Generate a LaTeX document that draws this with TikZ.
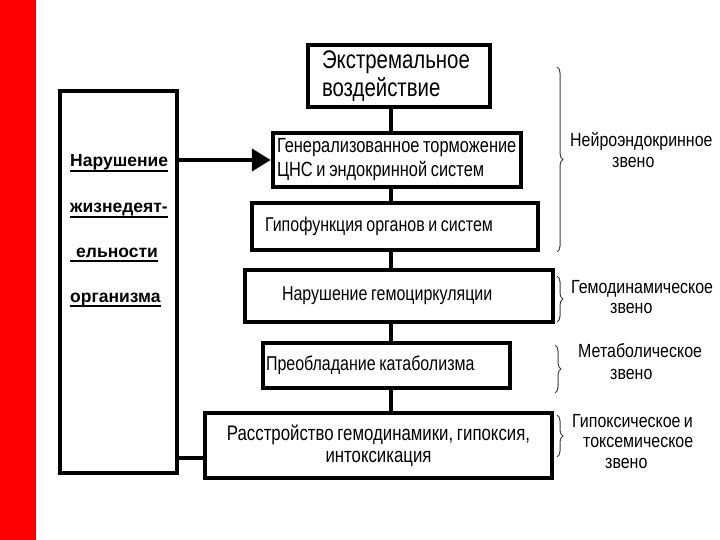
\documentclass[tikz,border=0pt]{standalone}
\usepackage{fontspec}
\setmainfont{Liberation Sans}
\newfontfamily\cf[FakeStretch=0.8,WordSpace=0.8]{Liberation Sans}
\newfontfamily\lf[FakeStretch=0.84,WordSpace=0.75]{Liberation Sans}
\usetikzlibrary{arrows.meta,decorations.pathreplacing}
\newcommand\myul[1]{\setbox0=\hbox{#1}\rlap{\rule[-5pt]{\wd0}{1.8pt}}\box0}
\newcommand\natsp{\spaceskip=0pt\xspaceskip=0pt\relax}
\begin{document}
\begin{tikzpicture}[x=1pt,y=-1pt,
  box/.style={draw=black,line width=4.5pt,rectangle,inner ysep=0pt,align=left,
    font=\cf\fontsize{20}{24}\selectfont},
  conn/.style={line width=4.5pt},
  brc/.style={draw=black!75,line width=1pt,decorate,decoration={brace,amplitude=6pt}},
  lab/.style={anchor=base west,inner sep=0pt,font=\lf\fontsize{19}{22}\selectfont},
  ltx/.style={anchor=base west,inner sep=0pt,font=\bfseries\fontsize{17.5}{20}\selectfont}]
\useasboundingbox (0,0) rectangle (720,540);
\fill[white] (0,0) rectangle (720,540);
\fill[red] (0,0) rectangle (36,540);
% boxes
\node[box,font=\cf\fontsize{25.5}{28}\selectfont,text width=154pt,inner xsep=14pt,minimum height=62pt] (ex) at (399,76) {\natsp\mbox{Экстремальное}\\\mbox{воздействие}};
\node[box,font=\cf\fontsize{20.5}{24}\selectfont,text width=240pt,inner xsep=4pt,minimum height=54pt] (gen) at (397,160) {\natsp\mbox{Генерализованное торможение}\\\mbox{ЦНС и эндокринной систем}};
\node[box,text width=260pt,inner xsep=13pt,minimum height=47pt] (gip) at (395,226.5) {\natsp\mbox{Гипофункция органов и систем}};
\node[box,text width=234pt,inner xsep=37pt,minimum height=52pt] (nar) at (399,296) {\natsp\mbox{Нарушение гемоциркуляции}};
\node[box,text width=241pt,inner xsep=3pt,minimum height=45pt] (prb) at (386.5,365.5) {\natsp\mbox{Преобладание катаболизма}};
\node[box,font=\cf\fontsize{21}{22}\selectfont,align=center,text width=327pt,inner xsep=10pt,minimum height=65pt] (rs) at (378.5,445.5) {\natsp\mbox{Расстройство гемодинамики, гипоксия,}\\\mbox{интоксикация}};
\node[draw=black,line width=4.5pt,rectangle,inner sep=0pt,minimum width=117pt,minimum height=382pt] (lb) at (118.5,282) {};
% left box text
\node[ltx] (l1) at (70,167) {\myul{Нарушение}};
\node[ltx] (l2) at (70,213) {\myul{жизнедеят-}};
\node[ltx] (l3) at (70,257) {\myul{\hspace{6pt}ельности}};
\node[ltx] (l4) at (70,302) {\myul{организма}};
% connectors
\coordinate (sp) at (391,0);
\draw[conn] (ex.south -| sp) -- (gen.north -| sp);
\draw[conn] (gen.south -| sp) -- (gip.north -| sp);
\draw[conn] (gip.south -| sp) -- (nar.north -| sp);
\draw[conn] (nar.south -| sp) -- (prb.north -| sp);
\draw[conn] (prb.south -| sp) -- (rs.north -| sp);
\draw[conn,-{Triangle[length=19pt,width=22pt]}] (lb.east |- gen.west) -- (gen.west);
\coordinate (jb) at (0,458);
\draw[conn] (lb.east |- jb) -- (rs.west |- jb);
% braces
\draw[brc] (557,67) -- (557,252);
\draw[brc] (557,276) -- (557,322);
\draw[brc] (555,345) -- (555,393);
\draw[brc] (557,415) -- (557,457);
% right labels
\node[lab] (r1a) at (570,147) {Нейроэндокринное};
\node[lab] (r1b) at (612,168) {звено};
\node[lab] (r2a) at (571,293) {Гемодинамическое};
\node[lab] (r2b) at (610,313) {звено};
\node[lab] (r3a) at (578,357) {Метаболическое};
\node[lab] (r3b) at (610,379) {звено};
\node[lab] (r4a) at (572,427) {Гипоксическое и};
\node[lab] (r4b) at (583,447) {токсемическое};
\node[lab] (r4c) at (605,468) {звено};
\end{tikzpicture}
\end{document}
